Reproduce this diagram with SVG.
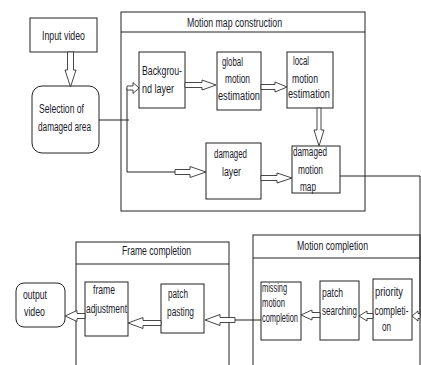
<svg xmlns="http://www.w3.org/2000/svg" width="421" height="365" viewBox="0 0 421 365">
<style>
.b{fill:#fff;stroke:#222;stroke-width:1}
.c{fill:none;stroke:#222;stroke-width:1}
.h{fill:#fff;stroke:#333;stroke-width:0.9}
text{font-family:"Liberation Sans",Arial,sans-serif;font-size:12.5px;fill:#1a1a2a}
</style>
<rect width="421" height="365" fill="#fff"/>
<g id="input-video"><rect class="b" x="30" y="18" width="67" height="34"/><text x="42" y="40" textLength="43" lengthAdjust="spacingAndGlyphs">Input video</text></g>
<g id="selection"><rect class="b" x="32" y="86" width="67" height="67" rx="10"/><text x="39" y="113" textLength="45" lengthAdjust="spacingAndGlyphs">Selection of</text><text x="38" y="131" textLength="53" lengthAdjust="spacingAndGlyphs">damaged area</text></g>
<g id="motion-map-construction"><rect class="b" x="121" y="12" width="244" height="199"/><line class="c" x1="121" y1="32" x2="365" y2="32"/><text x="187" y="27" textLength="95" lengthAdjust="spacingAndGlyphs">Motion  map construction</text></g>
<g id="background-layer"><rect class="b" x="139" y="52" width="46" height="56"/><text x="142" y="75" textLength="40" lengthAdjust="spacingAndGlyphs">Backgrou-</text><text x="142" y="93" textLength="32" lengthAdjust="spacingAndGlyphs">nd layer</text></g>
<g id="global-motion"><rect class="b" x="217" y="52" width="44" height="58"/><text x="222" y="66" textLength="21" lengthAdjust="spacingAndGlyphs">global</text><text x="225" y="83" textLength="25" lengthAdjust="spacingAndGlyphs">motion</text><text x="218" y="100" textLength="42" lengthAdjust="spacingAndGlyphs">estimation</text></g>
<g id="local-motion"><rect class="b" x="287" y="52" width="46" height="56"/><text x="293" y="65" textLength="16" lengthAdjust="spacingAndGlyphs">local</text><text x="292" y="83" textLength="26" lengthAdjust="spacingAndGlyphs">motion</text><text x="288" y="98" textLength="42" lengthAdjust="spacingAndGlyphs">estimation</text></g>
<g id="damaged-layer"><rect class="b" x="206" y="143" width="55" height="56"/><text x="214" y="158" textLength="33" lengthAdjust="spacingAndGlyphs">damaged</text><text x="222" y="176" textLength="19" lengthAdjust="spacingAndGlyphs">layer</text></g>
<g id="damaged-motion-map"><rect class="b" x="292" y="146" width="48" height="47"/><text x="293" y="156" textLength="34" lengthAdjust="spacingAndGlyphs">damaged</text><text x="298" y="174" textLength="25" lengthAdjust="spacingAndGlyphs">motion</text><text x="300" y="191" textLength="16" lengthAdjust="spacingAndGlyphs">map</text></g>
<g id="motion-completion"><rect class="b" x="253" y="235" width="167" height="140"/><line class="c" x1="253" y1="258" x2="420" y2="258"/><text x="297" y="250" textLength="71" lengthAdjust="spacingAndGlyphs">Motion completion</text></g>
<g id="missing-motion"><rect class="b" x="261" y="282" width="40" height="58"/><text x="262" y="292" textLength="25" lengthAdjust="spacingAndGlyphs">missing</text><text x="262" y="307" textLength="23" lengthAdjust="spacingAndGlyphs">motion</text><text x="262" y="322" textLength="36" lengthAdjust="spacingAndGlyphs">completion</text></g>
<g id="patch-searching"><rect class="b" x="320" y="281" width="39" height="59"/><text x="322" y="297" textLength="21" lengthAdjust="spacingAndGlyphs">patch</text><text x="322" y="315" textLength="35" lengthAdjust="spacingAndGlyphs">searching</text></g>
<g id="priority-completion"><rect class="b" x="373" y="279" width="39" height="61"/><text x="375" y="296" textLength="28" lengthAdjust="spacingAndGlyphs">priority</text><text x="374.5" y="315" textLength="34" lengthAdjust="spacingAndGlyphs">completi-</text><text x="382" y="331" textLength="9" lengthAdjust="spacingAndGlyphs">on</text></g>
<g id="frame-completion"><rect class="b" x="76" y="242" width="153" height="133"/><line class="c" x1="76" y1="264" x2="229" y2="264"/><text x="122" y="255" textLength="69" lengthAdjust="spacingAndGlyphs">Frame completion</text></g>
<g id="patch-pasting"><rect class="b" x="161" y="284" width="43" height="49"/><text x="168" y="298" textLength="20" lengthAdjust="spacingAndGlyphs">patch</text><text x="167" y="316" textLength="27" lengthAdjust="spacingAndGlyphs">pasting</text></g>
<g id="frame-adjustment"><rect class="b" x="85" y="282" width="43" height="54"/><text x="93" y="294" textLength="22" lengthAdjust="spacingAndGlyphs">frame</text><text x="86" y="313" textLength="41" lengthAdjust="spacingAndGlyphs">adjustment</text></g>
<g id="output-video"><rect class="b" x="16" y="283" width="49" height="44" rx="8"/><text x="23" y="299" textLength="24" lengthAdjust="spacingAndGlyphs">output</text><text x="24" y="316" textLength="21" lengthAdjust="spacingAndGlyphs">video</text></g>
<g id="connectors">
<polygon class="h" points="67.5,52 73.5,52 73.5,70 76,70 70.5,87 65,70 67.5,70"/>
<polyline class="c" points="99,120 129,120"/>
<polyline class="c" points="127,88 127,172 175,172"/>
<polygon class="h" points="127,86 133,86 133,82.5 139,88 133,93.5 133,90 127,90"/>
<polygon class="h" points="185,82.5 202,82.5 202,80 216,85 202,90 202,87.5 185,87.5"/>
<polygon class="h" points="261,84.5 275,84.5 275,82 287,87 275,92 275,89.5 261,89.5"/>
<polygon class="h" points="317,108 321,108 321,130 324,130 319,146 314,130 317,130"/>
<polygon class="h" points="175,169.5 190,169.5 190,166.5 206,172 190,177.5 190,174.5 175,174.5"/>
<polygon class="h" points="261,175.5 277,175.5 277,173 292,178 277,183 277,180.5 261,180.5"/>
<polyline class="c" points="340,176 420,176 420,316"/>
<polygon class="h" points="420,313.5 418,313.5 418,311 412,316 418,321 418,318.5 420,318.5"/>
<polygon class="h" points="373,313.5 367,313.5 367,311 359,316 367,321 367,318.5 373,318.5"/>
<polygon class="h" points="320,312.5 312,312.5 312,310 301,315 312,320 312,317.5 320,317.5"/>
<polyline class="c" points="261,320 235,320"/>
<polygon class="h" points="235,317.5 220,317.5 220,314.5 205,320 220,325.5 220,322.5 235,322.5"/>
<polygon class="h" points="161,320.5 143,320.5 143,317.5 128,323 143,328.5 143,325.5 161,325.5"/>
<polygon class="h" points="85,313.5 77,313.5 77,310.5 65,316 77,321.5 77,318.5 85,318.5"/>
</g>
</svg>
